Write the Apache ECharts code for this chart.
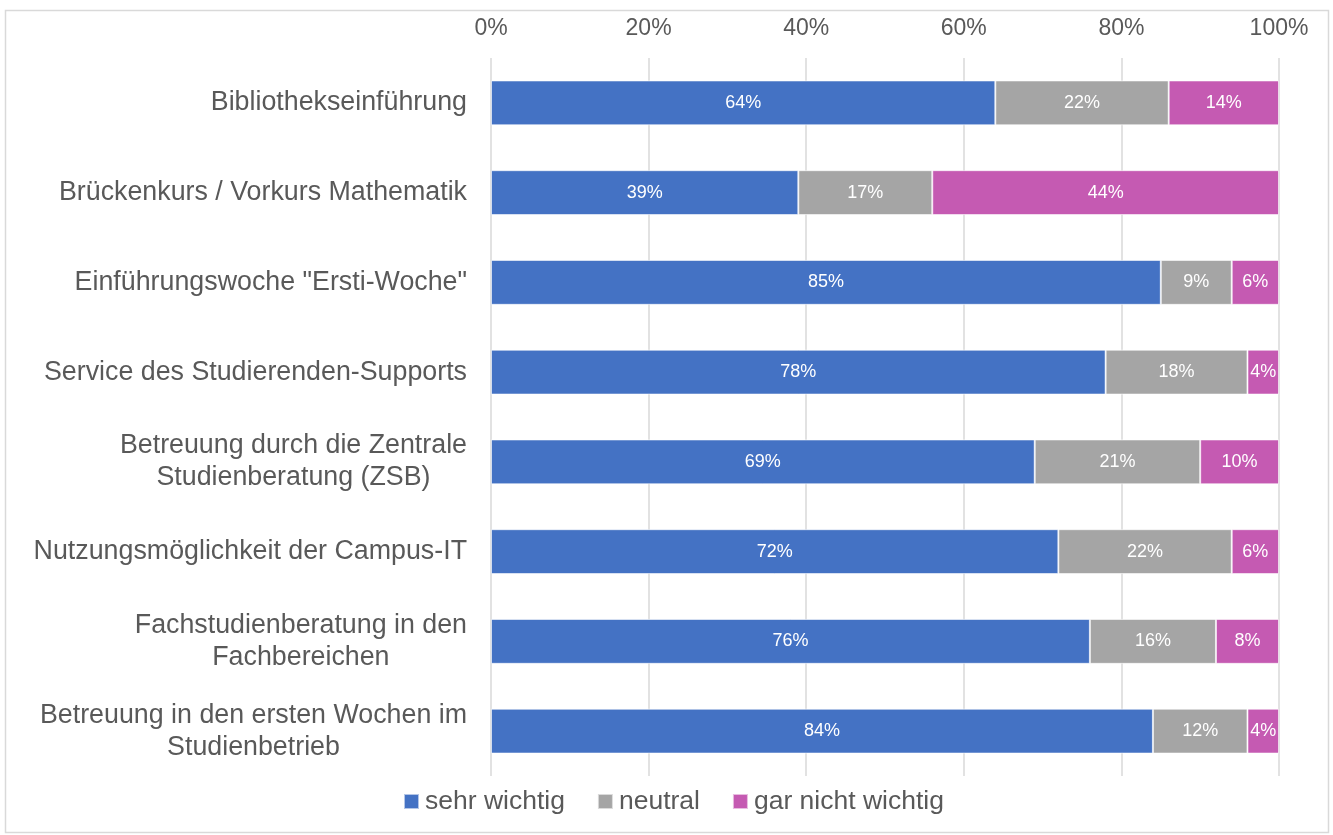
<!DOCTYPE html>
<html lang="de">
<head>
<meta charset="UTF-8" />
<title>Wichtigkeit der Angebote</title>
<script src="https://cdn.jsdelivr.net/npm/echarts@6/dist/echarts.min.js"></script>
<style>
    html, body { margin: 0; padding: 0; background: #fff; }
    #chart { width: 1333px; height: 835px; }
</style>
</head>
<body>
<div id="chart"></div>
<script>
// Kategorien (von oben nach unten)
const categories = [
    'Bibliothekseinführung',
    'Brückenkurs / Vorkurs Mathematik',
    'Einführungswoche "Ersti-Woche"',
    'Service des Studierenden-Supports',
    'Betreuung durch die Zentrale\nStudienberatung (ZSB)',
    'Nutzungsmöglichkeit der Campus-IT',
    'Fachstudienberatung in den\nFachbereichen',
    'Betreuung in den ersten Wochen im\nStudienbetrieb'
];
const seriesNames = ['sehr wichtig', 'neutral', 'gar nicht wichtig'];
const sehrWichtig = [64, 39, 85, 78, 69, 72, 76, 84];
const neutral = [22, 17, 9, 18, 21, 22, 16, 12];
const garNichtWichtig = [14, 44, 6, 4, 10, 6, 8, 4];
const xTicks = [0, 20, 40, 60, 80, 100];

const colors = ['#4472c4', '#a5a5a5', '#c55ab2'];
const font = '"Liberation Sans", Arial, sans-serif';
const textColor = '#595959';

const chart = echarts.init(document.getElementById('chart'));

function makeSeries(name, values, color) {
    return {
        name: name,
        type: 'bar',
        stack: 'total',
        barCategoryGap: '50%',
        data: values,
        itemStyle: { color: color, borderColor: 'rgba(255,255,255,0.6)', borderWidth: 1 },
        label: {
            show: true,
            position: 'inside',
            formatter: '{c}%',
            color: '#ffffff',
            fontSize: 18,
            fontFamily: font
        },
        emphasis: { disabled: true }
    };
}

chart.setOption({
    animation: false,
    textStyle: { fontFamily: font },
    grid: { left: 491, right: 54, top: 58, bottom: 59, containLabel: false },
    graphic: [{
        type: 'rect',
        shape: { x: 5.5, y: 10.5, width: 1323, height: 822 },
        style: { fill: 'none', stroke: '#d9d9d9', lineWidth: 1.5 },
        silent: true
    }],
    xAxis: {
        type: 'value',
        position: 'top',
        min: xTicks[0],
        max: xTicks[xTicks.length - 1],
        interval: 20,
        axisLine: { show: false },
        axisTick: { show: false },
        splitLine: { show: true, lineStyle: { color: '#d9d9d9', width: 1.5 } },
        axisLabel: {
            formatter: '{value}%',
            color: textColor,
            fontSize: 23,
            fontFamily: font,
            margin: 18
        }
    },
    yAxis: {
        type: 'category',
        inverse: true,
        data: categories,
        axisLine: { show: false },
        axisTick: { show: false },
        axisLabel: {
            margin: 24,
            color: textColor,
            fontSize: 26.8,
            fontFamily: font,
            formatter: function (v) {
                return v.split('\n').map(function (l) { return '{c|' + l + '}'; }).join('\n');
            },
            rich: {
                c: { align: 'center', fontSize: 26.8, color: textColor, fontFamily: font, lineHeight: 32 }
            }
        }
    },
    legend: {
        data: seriesNames,
        left: 398,
        top: 783,
        itemWidth: 15,
        itemHeight: 15,
        itemGap: 32,
        icon: 'rect',
        textStyle: { color: textColor, fontSize: 26.5, fontFamily: font, padding: [0, 0, 0, 1] }
    },
    series: [
        makeSeries(seriesNames[0], sehrWichtig, colors[0]),
        makeSeries(seriesNames[1], neutral, colors[1]),
        makeSeries(seriesNames[2], garNichtWichtig, colors[2])
    ]
});
</script>
</body>
</html>
